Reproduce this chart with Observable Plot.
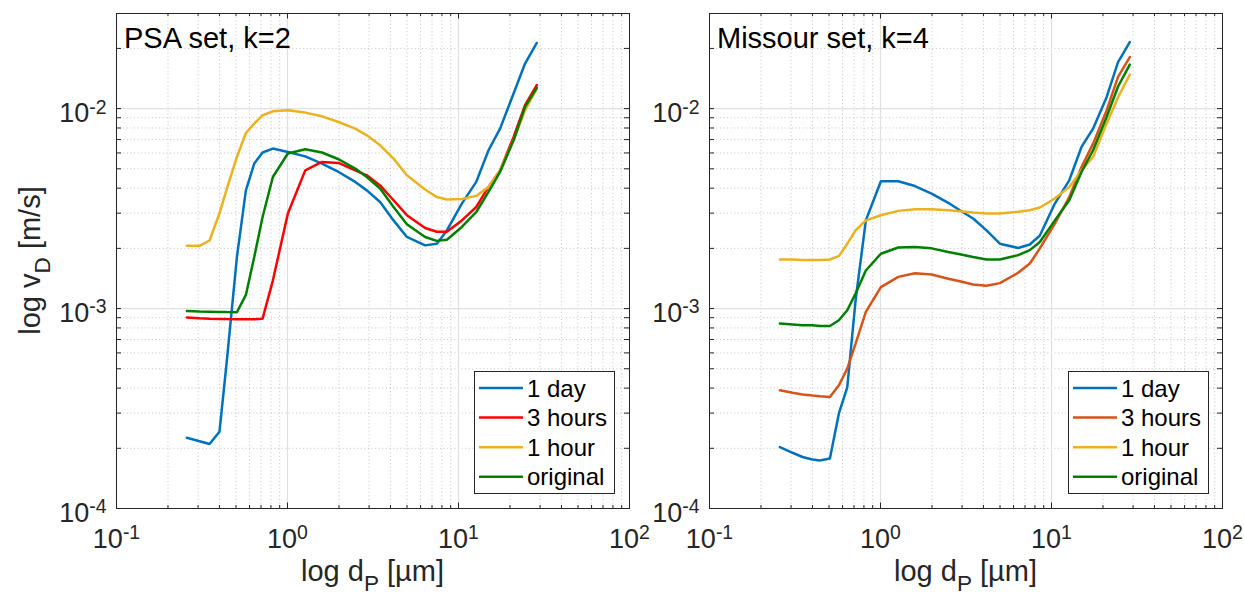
<!DOCTYPE html>
<html><head><meta charset="utf-8">
<script src="https://cdn.jsdelivr.net/npm/d3@7"></script>
<script src="https://cdn.jsdelivr.net/npm/@observablehq/plot@0.6"></script>
<style>
body{margin:0;background:#fff;}
#wrap{position:relative;width:1244px;height:595px;overflow:hidden;background:#fff;}
#wrap svg{position:absolute;top:0;}
</style></head><body><div id="wrap"></div>
<script>
// ---- data ----
const dp = [0.258,0.306,0.350,0.400,0.442,0.506,0.571,0.639,0.715,0.821,1.005,1.27,1.59,1.99,2.49,2.91,3.48,4.17,4.99,6.38,7.47,8.55,10.46,12.7,14.98,17.5,21.0,24.5,28.7];
const seriesNames = ["1 day","3 hours","1 hour","original"];

const psa1day  = [2.26e-4,2.17e-4,2.10e-4,2.42e-4,5.5e-4,1.81e-3,3.9e-3,5.31e-3,6.03e-3,6.31e-3,6.07e-3,5.77e-3,5.31e-3,4.82e-3,4.3e-3,3.9e-3,3.41e-3,2.76e-3,2.28e-3,2.07e-3,2.11e-3,2.46e-3,3.35e-3,4.3e-3,6.19e-3,7.94e-3,1.19e-2,1.68e-2,2.13e-2];
const psa3h    = [9.02e-4,8.95e-4,8.9e-4,8.87e-4,8.86e-4,8.85e-4,8.84e-4,8.84e-4,8.9e-4,1.38e-3,2.99e-3,4.91e-3,5.41e-3,5.35e-3,4.91e-3,4.64e-3,4.13e-3,3.48e-3,2.93e-3,2.53e-3,2.42e-3,2.42e-3,2.76e-3,3.22e-3,4.06e-3,4.91e-3,7.21e-3,1.04e-2,1.31e-2];
const psa1h    = [2.06e-3,2.06e-3,2.19e-3,2.99e-3,3.98e-3,5.73e-3,7.55e-3,8.41e-3,9.26e-3,9.69e-3,9.8e-3,9.55e-3,9.15e-3,8.57e-3,7.94e-3,7.35e-3,6.55e-3,5.62e-3,4.64e-3,3.94e-3,3.61e-3,3.51e-3,3.53e-3,3.66e-3,4.06e-3,4.91e-3,6.94e-3,9.8e-3,1.26e-2];
const psaOrig  = [9.73e-4,9.68e-4,9.65e-4,9.62e-4,9.6e-4,9.58e-4,1.17e-3,1.81e-3,2.87e-3,4.55e-3,5.96e-3,6.26e-3,6.03e-3,5.58e-3,5.01e-3,4.55e-3,3.98e-3,3.22e-3,2.64e-3,2.28e-3,2.18e-3,2.21e-3,2.56e-3,3.04e-3,3.83e-3,4.82e-3,6.94e-3,1.02e-2,1.27e-2];

const mis1day  = [2.03e-4,1.9e-4,1.81e-4,1.76e-4,1.74e-4,1.78e-4,2.99e-4,4.03e-4,1.1e-3,2.76e-3,4.33e-3,4.33e-3,4.1e-3,3.76e-3,3.38e-3,3.1e-3,2.82e-3,2.46e-3,2.11e-3,2.01e-3,2.09e-3,2.32e-3,3.35e-3,4.38e-3,6.43e-3,7.94e-3,1.14e-2,1.71e-2,2.15e-2];
const mis3h    = [3.9e-4,3.79e-4,3.72e-4,3.67e-4,3.64e-4,3.61e-4,4.13e-4,5.01e-4,6.68e-4,9.62e-4,1.28e-3,1.44e-3,1.5e-3,1.48e-3,1.41e-3,1.37e-3,1.32e-3,1.3e-3,1.34e-3,1.51e-3,1.68e-3,2.0e-3,2.66e-3,3.61e-3,5.1e-3,6.68e-3,9.8e-3,1.44e-2,1.81e-2];
const mis1h    = [1.76e-3,1.76e-3,1.75e-3,1.75e-3,1.75e-3,1.76e-3,1.83e-3,2.11e-3,2.46e-3,2.76e-3,2.93e-3,3.08e-3,3.14e-3,3.14e-3,3.1e-3,3.07e-3,3.02e-3,2.99e-3,2.99e-3,3.05e-3,3.1e-3,3.2e-3,3.55e-3,4.06e-3,4.91e-3,5.73e-3,8.41e-3,1.14e-2,1.48e-2];
const misOrig  = [8.41e-4,8.32e-4,8.25e-4,8.24e-4,8.18e-4,8.18e-4,8.74e-4,9.8e-4,1.19e-3,1.55e-3,1.88e-3,2.02e-3,2.03e-3,2.0e-3,1.92e-3,1.87e-3,1.81e-3,1.76e-3,1.76e-3,1.85e-3,1.96e-3,2.15e-3,2.76e-3,3.48e-3,4.82e-3,6.19e-3,9.08e-3,1.29e-2,1.66e-2];

const psaColors = ["#0072BD","#FF0000","#EDB120","#008000"];
const misColors = ["#0072BD","#D95319","#EDB120","#008000"];

const xMajor = [0.1, 1, 10, 100];
const xMinor = [0.2,0.3,0.4,0.5,0.6,0.7,0.8,0.9,2,3,4,5,6,7,8,9,20,30,40,50,60,70,80,90];
const yMajor = [1e-4, 1e-3, 1e-2];
const yMinor = [2e-4,3e-4,4e-4,5e-4,6e-4,7e-4,8e-4,9e-4,2e-3,3e-3,4e-3,5e-3,6e-3,7e-3,8e-3,9e-3,2e-2];
const xTickExp = ["-1","0","1","2"];
const yTickExp = ["-4","-3","-2"];

const titles = ["PSA set, k=2", "Missour set, k=4"];

// ---- layout / style ----
const FONT = '"Liberation Sans", Arial, Helvetica, sans-serif';
const TXT = "#262626";
const H = 595, MT = 13, MB = 87;
const innerH = H - MT - MB;

function panel(opts) {
  const {title, series, colors, left, width, marginLeft, marginRight, showYLabel} = opts;
  const innerW = width - marginLeft - marginRight;
  const data = [];
  series.forEach((ys, i) => ys.forEach((v, j) => data.push({dp: dp[j], vd: v, s: seriesNames[i]})));
  const chart = Plot.plot({
    width, height: H, marginLeft, marginRight, marginTop: MT, marginBottom: MB,
    style: {background: "transparent", overflow: "visible", fontFamily: FONT, color: TXT},
    x: {type: "log", domain: [0.1, 100], axis: null},
    y: {type: "log", domain: [1e-4, 0.0299], axis: null},
    color: {domain: seriesNames, range: colors},
    marks: [
      Plot.ruleX(xMinor, {x: d => d, stroke: "#bdbdbd", strokeDasharray: "1,2.6", strokeWidth: 0.9}),
      Plot.ruleY(yMinor, {y: d => d, stroke: "#bdbdbd", strokeDasharray: "1,2.6", strokeWidth: 0.9}),
      Plot.ruleX(xMajor, {x: d => d, stroke: "#e0e0e0", strokeWidth: 1.2}),
      Plot.ruleY(yMajor, {y: d => d, stroke: "#e0e0e0", strokeWidth: 1.2}),
      Plot.line(data, {x: "dp", y: "vd", z: "s", stroke: "s", strokeWidth: 2.5, strokeLinejoin: "miter"}),
      // inward ticks on all four sides
      Plot.tickX(xMajor, {x: d => d, insetTop: innerH - 5.5, stroke: TXT}),
      Plot.tickX(xMajor, {x: d => d, insetBottom: innerH - 5.5, stroke: TXT}),
      Plot.tickX(xMinor, {x: d => d, insetTop: innerH - 3, stroke: TXT}),
      Plot.tickX(xMinor, {x: d => d, insetBottom: innerH - 3, stroke: TXT}),
      Plot.tickY(yMajor.concat(yMinor), {y: d => d, insetRight: innerW - 5, stroke: TXT}),
      Plot.tickY(yMajor.concat(yMinor), {y: d => d, insetLeft: innerW - 5, stroke: TXT}),
      Plot.frame({stroke: TXT, strokeWidth: 1}),
      Plot.axisX({ticks: xMajor, tickSize: 0, tickPadding: 20, fontSize: 27, label: null,
                  tickFormat: d => "10^" + xTickExp[xMajor.indexOf(d)]}),
      Plot.axisY({ticks: yMajor, tickSize: 0, tickPadding: 10, fontSize: 27, label: null, dy: 5,
                  tickFormat: d => "10^" + yTickExp[yMajor.indexOf(d)]})
    ]
  });
  chart.style.left = left + "px";
  const svg = d3.select(chart);
  // superscripts in tick labels
  svg.selectAll('g[aria-label="x-axis tick label"] text, g[aria-label="y-axis tick label"] text').each(function() {
    const [base, exp] = this.textContent.split("^");
    const t = d3.select(this).text("");
    t.append("tspan").text(base);
    t.append("tspan").attr("dy", "-0.45em").attr("font-size", "0.72em").text(exp);
  });
  const fx0 = marginLeft, fx1 = width - marginRight;
  // title
  svg.append("text").attr("x", fx0 + 8).attr("y", 48).attr("text-anchor", "start")
     .attr("font-family", FONT).attr("font-size", 29).attr("fill", "#000").text(title);
  // x label
  const xl = svg.append("text").attr("x", (fx0 + fx1) / 2).attr("y", 581).attr("text-anchor", "middle")
     .attr("font-family", FONT).attr("font-size", 29).attr("fill", TXT);
  xl.append("tspan").text("log d");
  xl.append("tspan").attr("font-size", "0.78em").attr("dy", "0.42em").text("P");
  xl.append("tspan").attr("dy", "-0.33em").text(" [\u00b5m]");
  if (showYLabel) {
    const yl = svg.append("text").attr("transform", `translate(40,${MT + innerH / 2}) rotate(-90)`)
       .attr("text-anchor", "middle").attr("font-family", FONT).attr("font-size", 29).attr("fill", TXT);
    yl.append("tspan").text("log v");
    yl.append("tspan").attr("font-size", "0.78em").attr("dy", "0.42em").text("D");
    yl.append("tspan").attr("dy", "-0.33em").text(" [m/s]");
  }
  // legend
  const lg = svg.append("g").attr("transform", `translate(${opts.legendX},371)`);
  lg.append("rect").attr("x", 0.5).attr("y", 0.5).attr("width", opts.legendW).attr("height", 122)
    .attr("fill", "#fff").attr("stroke", "#262626").attr("stroke-width", 1);
  seriesNames.forEach((name, i) => {
    const cy = 17 + i * 29.6;
    lg.append("line").attr("x1", 5).attr("x2", 49).attr("y1", cy).attr("y2", cy)
      .attr("stroke", colors[i]).attr("stroke-width", 2.5);
    lg.append("text").attr("x", 53).attr("y", cy + 8.5).attr("text-anchor", "start")
      .attr("font-family", FONT).attr("font-size", 24).attr("fill", "#000").text(name);
  });
  return chart;
}

const wrap = document.getElementById("wrap");
wrap.appendChild(panel({title: titles[0], series: [psa1day, psa3h, psa1h, psaOrig], colors: psaColors,
  left: 0, width: 645, marginLeft: 116, marginRight: 16, showYLabel: true, legendX: 474, legendW: 140}));
wrap.appendChild(panel({title: titles[1], series: [mis1day, mis3h, mis1h, misOrig], colors: misColors,
  left: 645, width: 599, marginLeft: 64, marginRight: 22, showYLabel: false, legendX: 1068 - 645, legendW: 140}));
</script></body></html>
